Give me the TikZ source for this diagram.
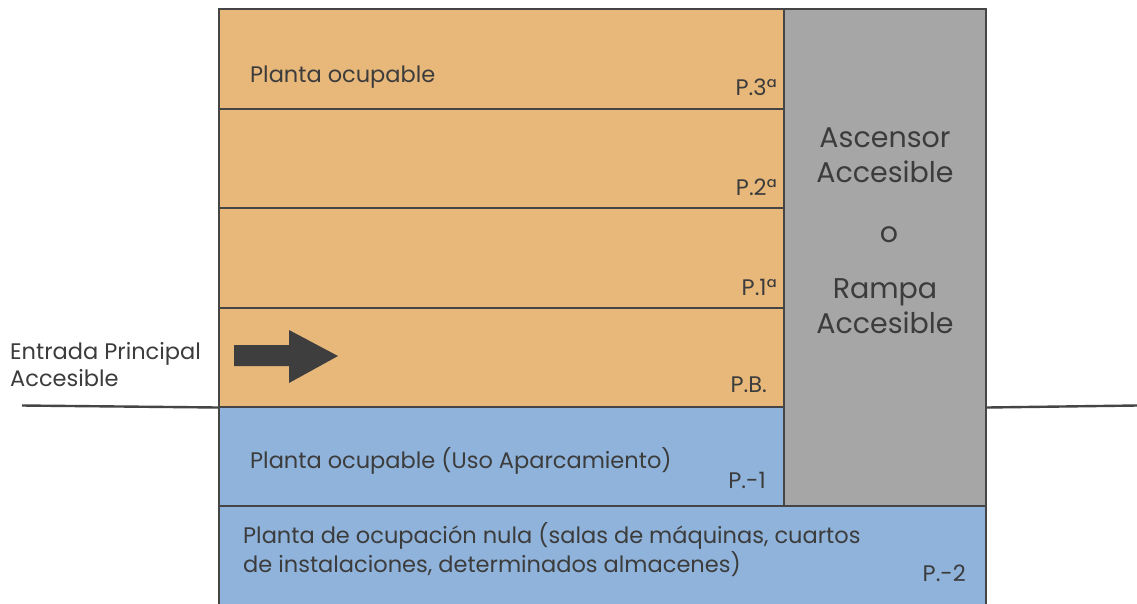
\documentclass[tikz,border=0pt]{standalone}
\usepackage{fontspec}
\setmainfont{Poppins}
\begin{document}
\begin{tikzpicture}[x=1pt,y=-1pt,
  every node/.style={text=txt, inner sep=0pt},
  floor/.style={draw=edge, line width=2pt, anchor=north west, minimum width=#1},
  floor/.default=565,
  lbl/.style={font=\fontsize{22.5}{27}\selectfont, anchor=base west},
  pl/.style={font=\fontsize{22.5}{27}\selectfont, anchor=base east},
  big/.style={font=\fontsize{28.5}{34}\selectfont, anchor=base}]
\definecolor{orng}{HTML}{E8B87A}
\definecolor{blu}{HTML}{8FB3DB}
\definecolor{gry}{HTML}{A6A6A6}
\definecolor{edge}{HTML}{454545}
\definecolor{txt}{HTML}{3C3C3C}
\useasboundingbox (0,0) rectangle (1137,603);
\fill[white] (0,0) rectangle (1137,603);
% floors
\node[floor, fill=orng, minimum height=99.5] (p3) at (218,8) {};
\node[floor, fill=orng, minimum height=99.5] (p2) at (218,107.5) {};
\node[floor, fill=orng, minimum height=99.5] (p1) at (218,207) {};
\node[floor, fill=orng, minimum height=99] (pb) at (218,306.5) {};
\node[floor, fill=blu, minimum height=99] (pm1) at (218,405.5) {};
\node[floor=767, fill=blu, minimum height=99] (pm2) at (218,504.5) {};
\node[floor=202, fill=gry, minimum height=496.5] (col) at (783,8) {};
% ground lines
\coordinate (gl) at (22,405.5);
\coordinate (gr) at (1137,405.5);
\draw[edge, line width=2.4pt] (gl) -- (pb.south west);
\draw[edge, line width=2.4pt] (col.east |- pb.south) -- (gr);
% arrow
\fill[edge!90!black] (234,345) -- (289,345) -- (289,330) -- (338,356) -- (289,383) -- (289,366) -- (234,366) -- cycle;
% labels
\node[lbl] (t3) at (250,82) {Planta ocupable};
\node[pl] (n3) at (777,95) {P.3ª};
\node[pl] (n2) at (777,195) {P.2ª};
\node[pl] (n1) at (777,295) {P.1ª};
\node[pl] (nb) at (767,392) {P.B.};
\node[lbl] (tm1) at (250,468) {Planta ocupable (Uso Aparcamiento)};
\node[pl] (nm1) at (766,488) {P.-1};
\node[lbl] (tm2a) at (243,543) {Planta de ocupación nula (salas de máquinas, cuartos};
\node[lbl] (tm2b) at (243,572) {de instalaciones, determinados almacenes)};
\node[pl] (nm2) at (966,581) {P.-2};
\node[big] (asc1) at (885,147) {Ascensor};
\node[big] (asc2) at (885,182) {Accesible};
\node[big] (o) at (889,242) {o};
\node[big] (ram1) at (885,298) {Rampa};
\node[big] (ram2) at (885,333) {Accesible};
\node[lbl] (ent1) at (10,359) {Entrada Principal};
\node[lbl] (ent2) at (10,386) {Accesible};
\end{tikzpicture}
\end{document}
